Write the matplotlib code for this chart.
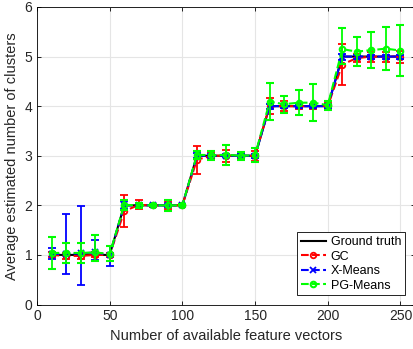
import numpy as np
import matplotlib
matplotlib.use('Agg')
import matplotlib.pyplot as plt
from matplotlib.lines import Line2D

plt.rcParams['font.family'] = ['Liberation Sans', 'DejaVu Sans']

# number of available feature vectors
n_vec = [10, 20, 30, 40, 50, 60, 70, 80, 90, 100, 110, 120, 130, 140, 150,
         160, 170, 180, 190, 200, 210, 220, 230, 240, 250]
truth = [1, 1, 1, 1, 1, 2, 2, 2, 2, 2, 3, 3, 3, 3, 3,
         4, 4, 4, 4, 4, 5, 5, 5, 5, 5]

# GC
gc_mean = [1.00, 0.98, 0.98, 1.00, 1.00, 1.88, 2.01, 2.00, 2.00, 2.00, 2.92, 3.00, 3.00, 3.00, 3.00,
           4.00, 4.00, 4.00, 4.00, 4.00, 4.84, 4.97, 5.00, 5.00, 5.00]
gc_err = [0.05, 0.06, 0.06, 0.05, 0.04, 0.32, 0.09, 0.03, 0.07, 0.02, 0.28, 0.07, 0.12, 0.05, 0.10,
          0.16, 0.10, 0.06, 0.05, 0.06, 0.42, 0.08, 0.10, 0.10, 0.12]

# X-Means (asymmetric spread)
xm_mean = [1.02, 1.02, 1.03, 1.05, 1.00, 2.00, 2.00, 2.00, 2.00, 2.00, 3.00, 3.00, 3.00, 3.00, 3.00,
           4.00, 4.00, 4.00, 4.00, 4.00, 5.00, 5.00, 5.00, 5.00, 5.00]
xm_lo = [0.11, 0.41, 0.63, 0.15, 0.22, 0.08, 0.03, 0.02, 0.03, 0.02, 0.05, 0.03, 0.03, 0.03, 0.04,
         0.05, 0.04, 0.03, 0.03, 0.04, 0.06, 0.04, 0.04, 0.04, 0.04]
xm_hi = [0.11, 0.80, 0.95, 0.25, 0.18, 0.08, 0.03, 0.02, 0.03, 0.02, 0.05, 0.03, 0.03, 0.03, 0.04,
         0.05, 0.04, 0.03, 0.03, 0.04, 0.06, 0.04, 0.04, 0.04, 0.04]

# PG-Means
pg_mean = [1.04, 1.04, 1.04, 1.05, 1.02, 2.01, 2.00, 2.00, 2.00, 2.00, 3.02, 3.01, 3.02, 3.00, 3.01,
           4.09, 4.04, 4.07, 4.07, 4.02, 5.15, 5.10, 5.13, 5.16, 5.12]
pg_lo = [0.32, 0.21, 0.20, 0.18, 0.15, 0.10, 0.05, 0.02, 0.11, 0.02, 0.08, 0.09, 0.20, 0.08, 0.14,
         0.37, 0.17, 0.25, 0.37, 0.09, 0.30, 0.30, 0.36, 0.44, 0.52]
pg_hi = [0.32, 0.21, 0.20, 0.36, 0.15, 0.10, 0.05, 0.02, 0.11, 0.02, 0.08, 0.09, 0.20, 0.08, 0.14,
         0.37, 0.17, 0.25, 0.37, 0.09, 0.42, 0.30, 0.36, 0.44, 0.52]

fig = plt.figure(figsize=(4.14, 3.49), dpi=100)
ax = fig.add_axes([0.0894, 0.1275, 0.913, 0.8525])

ax.plot(n_vec, truth, color='k', lw=1.5, zorder=2)
ax.errorbar(n_vec, gc_mean, yerr=gc_err, color='r', ls='--', lw=1.5, marker='o',
            ms=4, mfc='none', mew=1.3, capsize=3, elinewidth=1.3, zorder=3)
ax.errorbar(n_vec, xm_mean, yerr=[xm_lo, xm_hi], color='b', ls='--', lw=1.5, marker='x',
            ms=4, mew=1.3, capsize=3, elinewidth=1.3, zorder=4)
ax.errorbar(n_vec, pg_mean, yerr=[pg_lo, pg_hi], color='#00ff00', ls='--', lw=1.5, marker='o',
            ms=4, mfc='none', mew=1.5, capsize=3, elinewidth=1.3, zorder=5)

ax.set_xlim(0, 260)
ax.set_ylim(0, 6)
ax.set_xticks([0, 50, 100, 150, 200, 250])
ax.set_yticks([0, 1, 2, 3, 4, 5, 6])
ax.tick_params(direction='in', top=True, right=True, labelsize=10, length=3, width=0.6,
               labelcolor='#262626')
ax.grid(True, color='#e5e5e5', lw=0.8)
ax.set_axisbelow(True)
for s in ax.spines.values():
    s.set_linewidth(0.6)

ax.set_xlabel('Number of available feature vectors', fontsize=10.5, color='#262626')
ax.set_ylabel('Average estimated number of clusters', fontsize=10.5, color='#262626')

# legend entries: line + marker only, no error bars
handles = [
    Line2D([], [], color='k', lw=1.5),
    Line2D([], [], color='r', ls='--', lw=1.5, marker='o', ms=4, mfc='none', mew=1.3),
    Line2D([], [], color='b', ls='--', lw=1.5, marker='x', ms=4, mew=1.3),
    Line2D([], [], color='#00ff00', ls='--', lw=1.5, marker='o', ms=4, mfc='none', mew=1.5),
]
labels = ['Ground truth', 'GC', 'X-Means', 'PG-Means']
leg = ax.legend(handles, labels, loc='lower right', fontsize=9, fancybox=False, framealpha=1,
                edgecolor='k', handlelength=2.0, borderpad=0.3, labelspacing=0.2,
                handletextpad=0.4, bbox_to_anchor=(0.99, 0.01))
leg.get_frame().set_linewidth(0.6)

fig.savefig('out.png', dpi=100)
